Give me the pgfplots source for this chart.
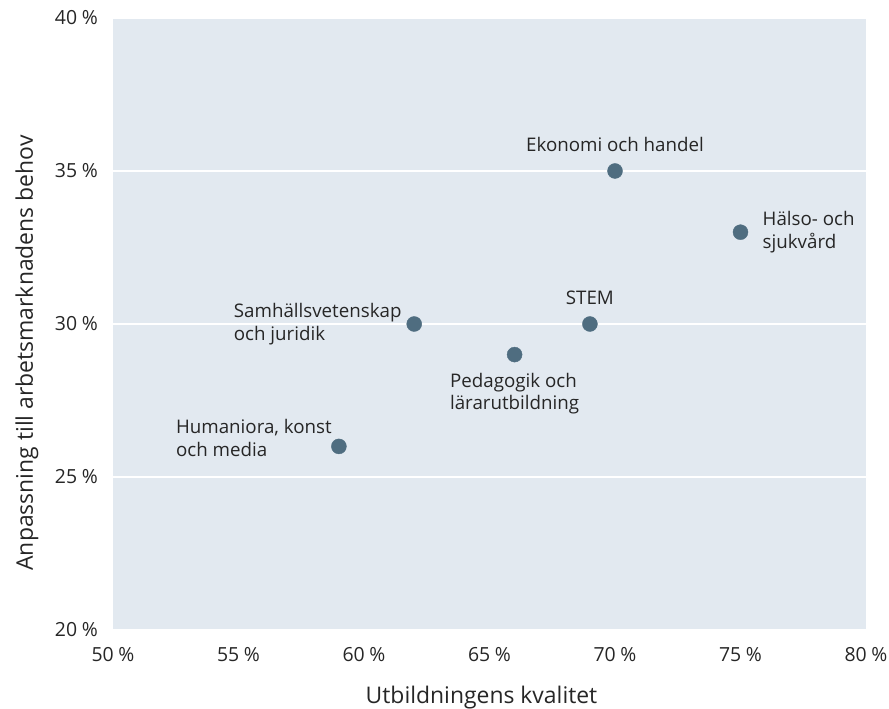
\documentclass[border=0pt]{standalone}
\usepackage{pgfplots}
\pgfplotsset{compat=1.18}
\usepackage{fontspec}
\setmainfont{Open Sans}
\definecolor{bg}{HTML}{E2E9F0}
\definecolor{mk}{HTML}{4F6D80}
\definecolor{txt}{HTML}{262626}
\begin{document}
\begin{tikzpicture}
\useasboundingbox (-113bp,-79bp) rectangle (776bp,630bp);
\begin{axis}[
  scale only axis, width=753bp, height=612bp,
  xmin=50, xmax=80, ymin=20, ymax=40,
  xtick={50,55,...,80}, ytick={20,25,...,40},
  /pgf/number format/assume math mode=true,
  xticklabel={\pgfmathprintnumber{\tick}\hspace{0.24em}\%},
  yticklabel={\pgfmathprintnumber{\tick}\hspace{0.24em}\%},
  axis background/.style={fill=bg},
  axis line style={draw=none},
  major tick length=0pt,
  ymajorgrids, grid style={white, line width=1.2bp},
  tick label style={font=\fontsize{19.5}{22}\selectfont, text=txt, inner sep=0pt},
  yticklabel style={xshift=-15bp},
  xticklabel style={yshift=-17bp},
  xlabel={Utbildningens kvalitet},
  ylabel={Anpassning till arbetsmarknadens behov},
  label style={font=\fontsize{23}{26}\selectfont, text=txt, inner sep=0pt},
  xlabel style={at={(axis description cs:0.4894,-0.1193)}, anchor=base},
  ylabel style={at={(axis description cs:-0.10624,0.4526)}, anchor=base, rotate=0},
  clip=false,
]
\addplot[only marks, mark=*, mark size=7.5bp, mark options={fill=mk, draw=mk}] coordinates {
  (70,35) (75,33) (69,30) (62,30) (66,29) (59,26)
};
\tikzset{lab/.style={font=\fontsize{18.8}{23}\selectfont, text=txt, inner sep=0pt, align=left}}
\node[lab, anchor=south, yshift=19bp] at (axis cs:70,35) {Ekonomi och handel};
\node[lab, anchor=west, xshift=22bp] at (axis cs:75,33) {Hälso- och\\sjukvård};
\node[lab, anchor=south, yshift=19bp] at (axis cs:69,30) {STEM};
\node[lab, anchor=east, xshift=-12.5bp] at (axis cs:62,30) {Samhällsvetenskap\\och juridik};
\node[lab, anchor=north, yshift=-18bp] at (axis cs:66,29) {Pedagogik och\\lärarutbildning};
\node[lab, anchor=east, xshift=-7bp, yshift=8.5bp] at (axis cs:59,26) {Humaniora, konst\\och media};
\end{axis}
\end{tikzpicture}
\end{document}
